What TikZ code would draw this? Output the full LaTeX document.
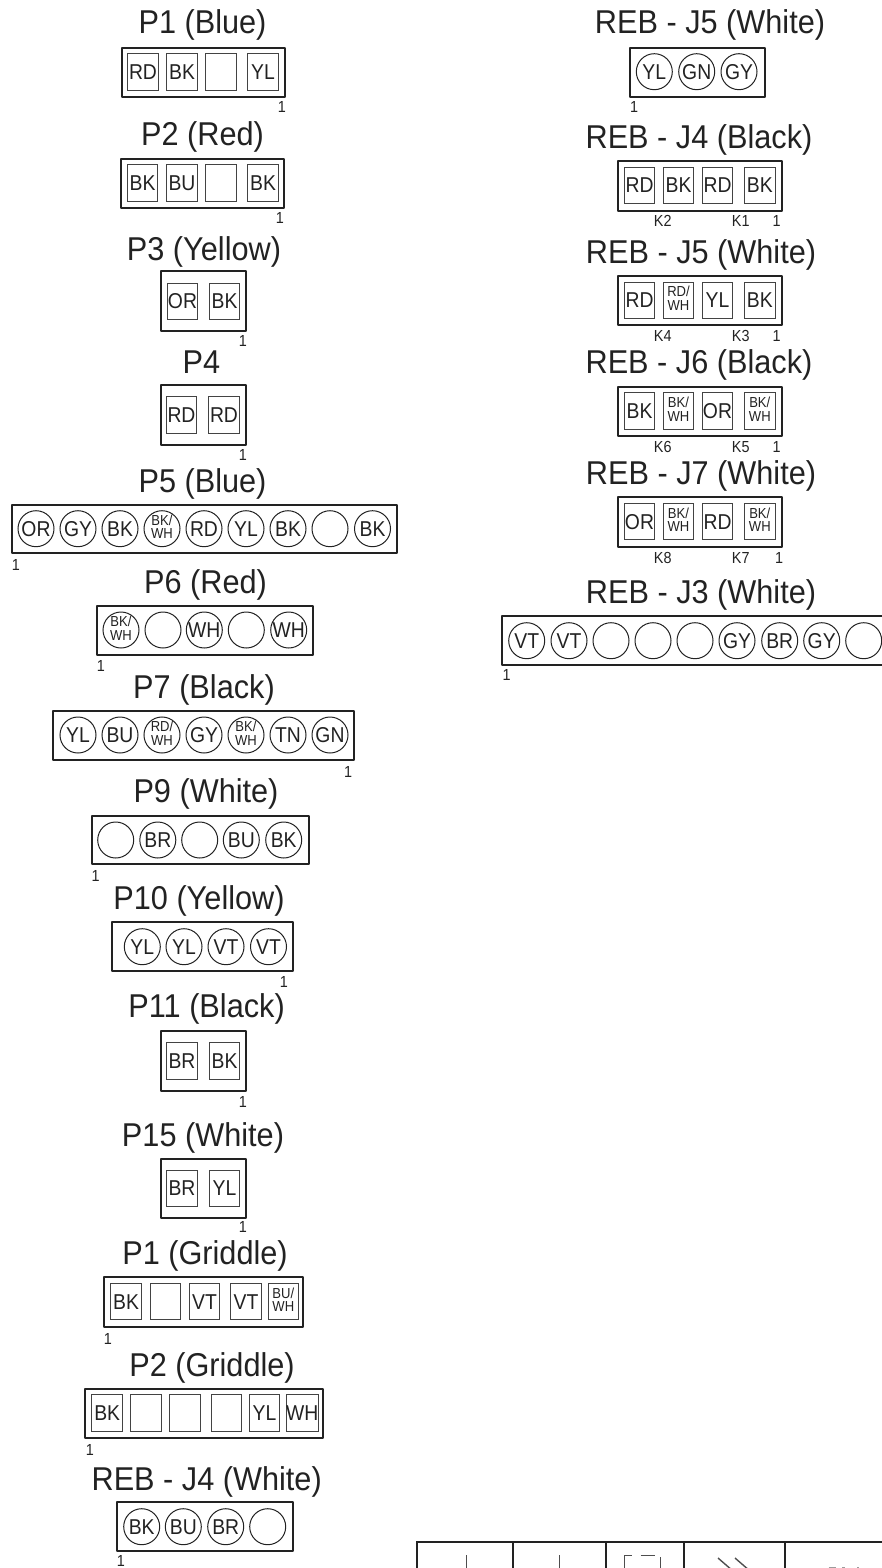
\documentclass[tikz,border=0pt]{standalone}
\usepackage{fontspec}
\setmainfont{Liberation Sans}
\newfontfamily\condfont[FakeStretch=0.9]{Liberation Sans}
\newfontfamily\titlefont[FakeStretch=0.93]{Liberation Sans}
\definecolor{ink}{HTML}{222222}
\newcommand{\twolines}[2]{{\condfont\fontsize{14.5}{13}\selectfont\begin{tabular}{@{}c@{}}#1\\#2\end{tabular}}}
\newcommand{\bkwh}{\twolines{BK/}{WH}}
\newcommand{\rdwh}{\twolines{RD/}{WH}}
\newcommand{\buwh}{\twolines{BU/}{WH}}
\tikzset{
  title/.style={anchor=base,inner sep=0pt,text=ink,font=\titlefont\fontsize{33}{34}\selectfont},
  housing/.style={draw=ink,line width=2pt,line join=round},
  rpin/.style={draw=ink!85,line width=1pt,rectangle,minimum width=30.5pt,minimum height=36.5pt,inner sep=0pt,text=ink,font=\condfont\fontsize{21.5}{22}\selectfont},
  cpin/.style={draw=ink,line width=1pt,circle,minimum size=36pt,inner sep=0pt,text=ink,font=\condfont\fontsize{21.5}{22}\selectfont},
  mark1/.style={inner sep=0pt,text=ink,font=\condfont\fontsize{16}{16}\selectfont},
  cellline/.style={draw=ink,line width=2pt},
  glyph/.style={draw=ink!80,line width=1pt},
  stub/.style={draw=ink!45,line width=1pt},
}
\newcommand{\pinrow}[4]{\foreach \x/\t [count=\i] in {#4} {\node[#1] (#2-\i) at (\x,#3) {\t};}}
\begin{document}
\begin{tikzpicture}[x=1pt,y=-1pt]
\clip (0,0) rectangle (882,1568);
\useasboundingbox (0,0) rectangle (882,1568);
% left column
\node[title] (tp1) at (202.5,34) {P1 (Blue)};
\draw[housing] (121.5,48) rectangle (284.5,97);
\pinrow{rpin}{p1}{72}{143/RD,182/BK,221/{},263/YL}
\node[mark1] (np1) at (282,107) {1};

\node[title] (tp2) at (202.5,146) {P2 (Red)};
\draw[housing] (121,159) rectangle (284,208);
\pinrow{rpin}{p2}{183}{142.5/BK,182/BU,221/{},263/BK}
\node[mark1] (np2) at (280,218) {1};

\node[title] (tp3) at (204,260) {P3 (Yellow)};
\draw[housing] (161,271) rectangle (245.7,331);
\pinrow{rpin}{p3}{301.5}{182.5/OR,224.5/BK}
\node[mark1] (np3) at (243,341) {1};

\node[title] (tp4) at (201.5,373) {P4};
\draw[housing] (160.5,385) rectangle (245.5,445);
\pinrow{rpin}{p4}{415}{181.5/RD,224/RD}
\node[mark1] (np4) at (243,455) {1};

\node[title] (tp5) at (202.5,492) {P5 (Blue)};
\draw[housing] (12,505) rectangle (396.7,552.7);
\pinrow{cpin}{p5}{528.7}{36/OR,78/GY,120/BK,162/\bkwh,204/RD,246/YL,288/BK,330/{},372.5/BK}
\node[mark1] (np5) at (16,565) {1};

\node[title] (tp6) at (205.5,593) {P6 (Red)};
\draw[housing] (97,606) rectangle (313.3,655);
\pinrow{cpin}{p6}{630}{121/\bkwh,163/{},204.3/WH,246.3/{},288.7/WH}
\node[mark1] (np6) at (101,666) {1};

\node[title] (tp7) at (204,698) {P7 (Black)};
\draw[housing] (53.3,711) rectangle (354.3,760);
\pinrow{cpin}{p7}{735}{78/YL,120/BU,162/\rdwh,204/GY,246/\bkwh,288/TN,330/GN}
\node[mark1] (np7) at (348,771.7) {1};

\node[title] (tp9) at (206,802) {P9 (White)};
\draw[housing] (91.7,815.7) rectangle (308.7,864);
\pinrow{cpin}{p9}{840}{115.7/{},157.8/BR,199.7/{},241.3/BU,283.7/BK}
\node[mark1] (np9) at (95.7,876) {1};

\node[title] (tp10) at (199,909) {P10 (Yellow)};
\draw[housing] (112.3,922.3) rectangle (292.7,971);
\pinrow{cpin}{p10}{946.7}{142.3/YL,184/YL,226/VT,268.5/VT}
\node[mark1] (np10) at (284,982) {1};

\node[title] (tp11) at (206.6,1017) {P11 (Black)};
\draw[housing] (161,1030.7) rectangle (245.7,1090.7);
\pinrow{rpin}{p11}{1061}{182/BR,224.5/BK}
\node[mark1] (np11) at (243,1101.7) {1};

\node[title] (tp15) at (203,1146) {P15 (White)};
\draw[housing] (161,1158.7) rectangle (245.7,1218.3);
\pinrow{rpin}{p15}{1188.3}{182/BR,224.5/YL}
\node[mark1] (np15) at (243,1227) {1};

\node[title] (tg1) at (205,1264) {P1 (Griddle)};
\draw[housing] (104,1276.7) rectangle (303.3,1326.7);
\pinrow{rpin}{g1}{1301.7}{126/BK,165.3/{},204.5/VT,246/VT,283.3/\buwh}
\node[mark1] (ng1) at (108,1339) {1};

\node[title] (tg2) at (212,1376) {P2 (Griddle)};
\draw[housing] (85,1388.7) rectangle (323.3,1438.3);
\pinrow{rpin}{g2}{1413}{107.2/BK,146/{},185/{},226.7/{},264.5/YL,302.3/WH}
\node[mark1] (ng2) at (90,1450) {1};

\node[title] (trw4) at (206.7,1490) {REB - J4 (White)};
\draw[housing] (116.7,1502.3) rectangle (293.3,1551);
\pinrow{cpin}{rw4}{1526.7}{141.7/BK,183.3/BU,225.7/BR,267.7/{}}
\node[mark1] (nrw4) at (121,1560.5) {1};

% right column
\node[title] (tj5a) at (710,34) {REB - J5 (White)};
\draw[housing] (630,48) rectangle (765,96.7);
\pinrow{cpin}{j5a}{71.7}{654.3/YL,696.7/GN,739/GY}
\node[mark1] (nj5a) at (634,107) {1};

\node[title] (tj4) at (699,148) {REB - J4 (Black)};
\draw[housing] (618.3,161) rectangle (781.7,210.7);
\pinrow{rpin}{j4}{185.3}{639.5/RD,678.5/BK,717.5/RD,759.8/BK}
\node[mark1] (k2) at (662.7,221) {K2};
\node[mark1] (k1) at (740.7,221) {K1};
\node[mark1] (nj4) at (776.7,221) {1};

\node[title] (tj5b) at (701,263) {REB - J5 (White)};
\draw[housing] (618.3,276) rectangle (781.7,325);
\pinrow{rpin}{j5b}{300.3}{639.5/RD,678.5/\rdwh,717.5/YL,759.8/BK}
\node[mark1] (k4) at (662.7,335.5) {K4};
\node[mark1] (k3) at (740.7,335.5) {K3};
\node[mark1] (nj5b) at (776.7,335.5) {1};

\node[title] (tj6) at (699,373) {REB - J6 (Black)};
\draw[housing] (618.3,386.7) rectangle (781.7,436);
\pinrow{rpin}{j6}{411}{639.5/BK,678.5/\bkwh,717.5/OR,759.8/\bkwh}
\node[mark1] (k6) at (662.7,447) {K6};
\node[mark1] (k5) at (740.7,447) {K5};
\node[mark1] (nj6) at (776.7,447) {1};

\node[title] (tj7) at (701,484) {REB - J7 (White)};
\draw[housing] (618.3,497.3) rectangle (781.7,546.7);
\pinrow{rpin}{j7}{521.7}{639.5/OR,678.5/\bkwh,717.5/RD,759.8/\bkwh}
\node[mark1] (k8) at (662.7,557.5) {K8};
\node[mark1] (k7) at (740.7,557.5) {K7};
\node[mark1] (nj7) at (779,557.5) {1};

\node[title] (tj3) at (701,603) {REB - J3 (White)};
\draw[housing] (502.3,616) rectangle (900,665);
\pinrow{cpin}{j3}{640.7}{526.7/VT,569/VT,611/{},653/{},695/{},737/GY,779.7/BR,821.7/GY,863.7/{}}
\node[mark1] (nj3) at (506.7,675) {1};

% table cut by the lower edge
\draw[cellline] (416.7,1580) |- (900,1542);
\foreach \d in {513,606,684,785} \draw[cellline] (\d,1542) -- (\d,1580);
\draw[glyph] (466.7,1555) -- (466.7,1580);
\draw[glyph] (559.3,1555) -- (559.3,1580);
\draw[glyph] (624,1580) |- (631.7,1555);
\draw[glyph] (640.7,1555) -- (655,1555);
\draw[glyph] (660.7,1557) -- (660.7,1580);
\draw[glyph,line width=1.4pt] (718,1558) -- (733,1571);
\draw[glyph,line width=1.4pt] (735,1558) -- (750,1571);
\draw[stub] (828.5,1567.5) -- (836,1567.5);
\draw[stub] (842,1567.5) -- (845,1567.5);
\draw[stub] (857,1567.5) -- (859,1567.5);
\end{tikzpicture}
\end{document}
